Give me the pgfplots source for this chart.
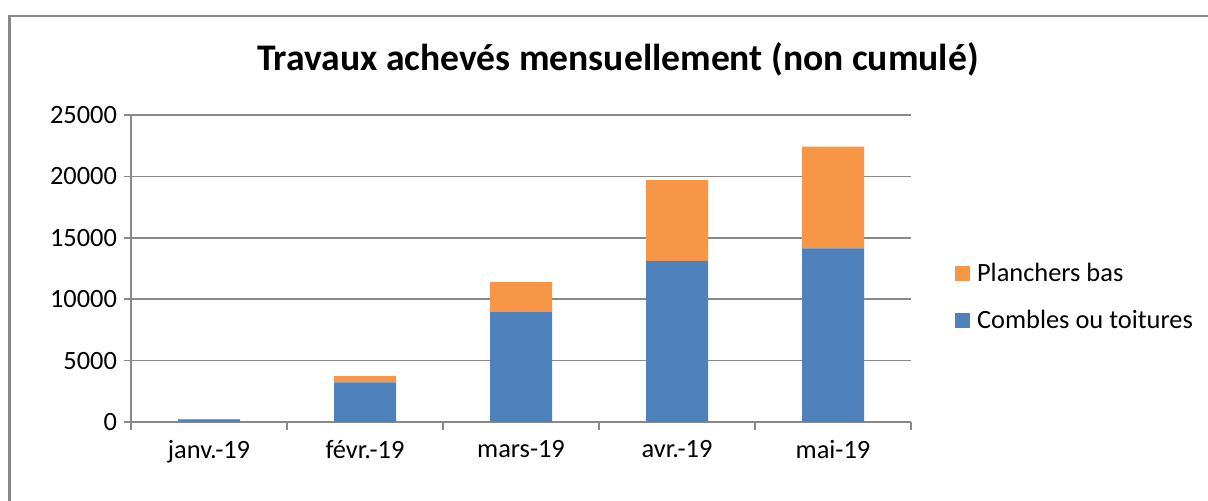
\documentclass[border=0pt]{standalone}
\usepackage{fontspec}
\setmainfont{Carlito}
\usepackage{pgfplots}
\pgfplotsset{compat=1.18}
\definecolor{cblue}{HTML}{4F81BD}
\definecolor{corange}{HTML}{F79646}
\definecolor{cgrid}{HTML}{898989}
\begin{document}
\begin{tikzpicture}
\useasboundingbox (0,0) rectangle (604pt,250.5pt);
\draw[cgrid, line width=1.2pt] (4.75pt,0) -- (4.75pt,242.5pt) -- (604pt,242.5pt);
\node[font=\fontsize{18.8}{22}\selectfont\bfseries, anchor=base, inner sep=0pt] at (309pt,215pt) {Travaux achevés mensuellement (non cumulé)};
\begin{axis}[
  at={(65.5pt,39.5pt)}, anchor=south west,
  scale only axis, width=390pt, height=153.5pt,
  ybar stacked, bar width=31pt,
  xmin=-0.5, xmax=4.5, ymin=0, ymax=25000,
  xtick={0,1,2,3,4},
  xticklabels={janv.-19,févr.-19,mars-19,avr.-19,mai-19},
  minor xtick={-0.5,0.5,1.5,2.5,3.5,4.5},
  ytick={0,5000,10000,15000,20000,25000},
  scaled y ticks=false,
  yticklabel style={/pgf/number format/.cd, fixed, 1000 sep={}, assume math mode=true},
  /pgf/number format/assume math mode=true,
  axis lines*=left,
  axis line style={cgrid, line width=0.8pt},
  ymajorgrids, grid style={cgrid, line width=0.8pt},
  tick style={cgrid, line width=0.8pt},
  major x tick style={draw=none},
  tick align=outside,
  major tick length=3.5pt, minor tick length=4pt,
  ticklabel style={font=\fontsize{13.2}{15}\selectfont, text=black},
  x tick label style={yshift=-2pt},
  reverse legend,
  legend style={draw=none, at={(1.056,0.407)}, anchor=west, font=\fontsize{13.2}{15}\selectfont,
    row sep=9pt, inner sep=0pt, cells={anchor=west}},
  legend image code/.code={\fill[#1] (0pt,-3.75pt) rectangle (7.5pt,3.75pt); \path (9pt,0pt);},
]
\addplot[fill=cblue, draw=none] coordinates {(0,220) (1,3230) (2,8980) (3,13130) (4,14140)};
\addlegendentry{Combles ou toitures}
\addplot[fill=corange, draw=none] coordinates {(0,20) (1,510) (2,2400) (3,6570) (4,8280)};
\addlegendentry{Planchers bas}
\end{axis}
\end{tikzpicture}
\end{document}
